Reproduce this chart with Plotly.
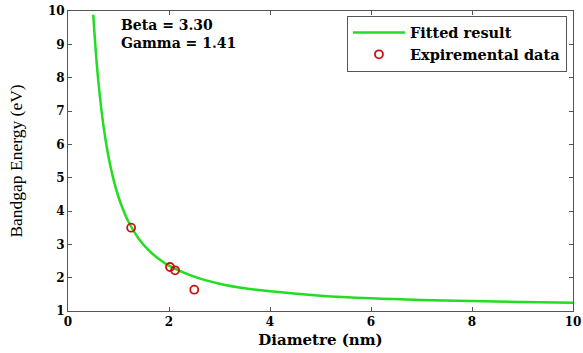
import plotly.graph_objects as go

# Fitted curve
fit_d = [0.5, 0.55, 0.6, 0.7, 0.8, 0.9, 1.0, 1.1, 1.2, 1.4, 1.6, 1.8, 2.0, 2.5, 3.0, 3.5, 4.0, 5.0, 6.0, 7.0, 8.0, 9.0, 10.0]
fit_e = [9.89, 8.79, 7.90, 6.58, 5.64, 4.95, 4.42, 4.01, 3.67, 3.17, 2.82, 2.56, 2.36, 2.03, 1.82, 1.68, 1.59, 1.46, 1.38, 1.33, 1.30, 1.27, 1.25]

# Experimental data
exp_d = [1.25, 2.02, 2.12, 2.50]
exp_e = [3.50, 2.32, 2.22, 1.64]

x_ticks = [0, 2, 4, 6, 8, 10]
y_ticks = [1, 2, 3, 4, 5, 6, 7, 8, 9, 10]

serif_b = "DejaVu Serif"

fig = go.Figure()
fig.add_trace(go.Scatter(x=fit_d, y=fit_e, mode="lines", name="<b>Fitted result</b>",
                         line=dict(color="#22dd22", width=2.5, shape="spline")))
fig.add_trace(go.Scatter(x=exp_d, y=exp_e, mode="markers", name="<b>Expiremental data</b>",
                         marker=dict(symbol="circle-open", color="#cc1111", size=8,
                                     line=dict(width=1.8, color="#cc1111"))))

axis_common = dict(showgrid=False, zeroline=False, showline=True, linecolor="#555555",
                   linewidth=1, mirror="ticks", ticks="inside", ticklen=4,
                   tickcolor="#555555", automargin=False,
                   tickfont=dict(family=serif_b, size=12, color="black", weight="bold"))

fig.update_xaxes(range=[0, 10], tickvals=x_ticks, **axis_common,
                 title=dict(text="<b>Diametre (nm)</b>", standoff=6,
                            font=dict(family=serif_b, size=15, color="black")))
fig.update_yaxes(range=[1, 10], tickvals=y_ticks, **axis_common,
                 title=dict(text="Bandgap Energy (eV)", standoff=20,
                            font=dict(family="Liberation Serif", size=17.5, color="black")))

fig.add_annotation(x=1.0, y=9.32, text="<b>Beta = 3.30<br>Gamma = 1.41</b>", showarrow=False,
                   xanchor="left", yanchor="middle", align="left",
                   font=dict(family=serif_b, size=14, color="black"))

fig.update_layout(
    width=583, height=353,
    margin=dict(l=68, r=10, t=11, b=42),
    paper_bgcolor="white", plot_bgcolor="white",
    legend=dict(x=0.988, y=0.985, xanchor="right", yanchor="top",
                bgcolor="white", bordercolor="#555555", borderwidth=1,
                font=dict(family=serif_b, size=14.5, color="black"),
                tracegroupgap=0, itemwidth=52),
)

fig.write_html("out.html")
